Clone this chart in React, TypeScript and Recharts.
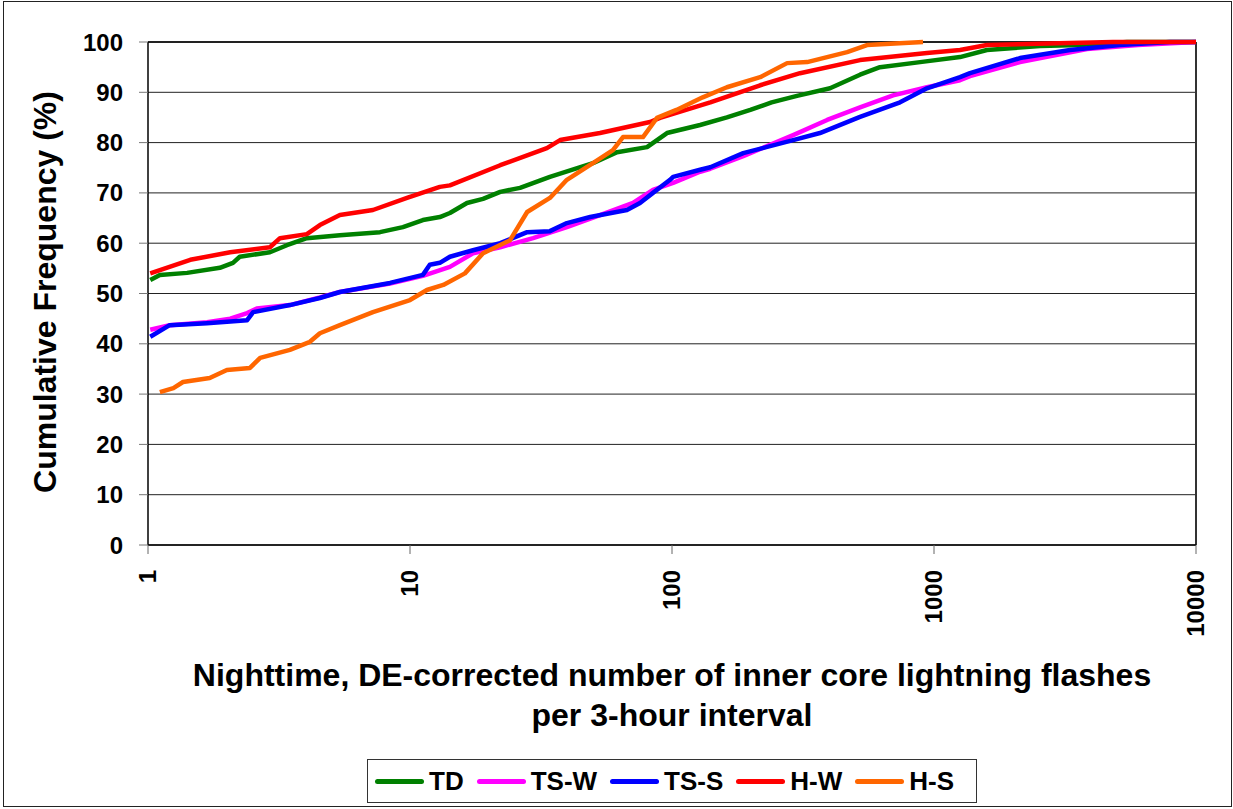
import React from 'react';
import { LineChart, Line, XAxis, YAxis, CartesianGrid, ReferenceLine } from 'recharts';

// [flashes, cumulative %]
const tdData = [
  [1.02, 52.7], [1.11, 53.7], [1.41, 54.1], [1.88, 55.1], [2.11, 56.1], [2.24, 57.3], [2.92, 58.2],
  [3.39, 59.6], [4.04, 61], [5.4, 61.6], [7.68, 62.2], [9.4, 63.2], [11.2, 64.6], [13, 65.2],
  [14.2, 66], [16.5, 68], [19, 68.8], [22.1, 70.2], [26.3, 71], [34.2, 73.2], [49.9, 75.9],
  [61.7, 78.1], [80.3, 79.1], [95.7, 81.9], [128, 83.5], [162, 85], [199, 86.5], [240, 88],
  [300, 89.3], [401, 90.8], [522, 93.5], [622, 95], [885, 96], [1257, 97], [1592, 98.4],
  [2540, 99.2], [3607, 99.4], [5456, 100], [10000, 100],
];

const tswData = [
  [1.02, 42.8], [1.21, 43.7], [1.68, 44.3], [2.06, 45], [2.39, 46.1], [2.6, 47], [3.48, 47.7],
  [4.53, 49.2], [5.4, 50.3], [8.39, 52], [11.2, 53.5], [14.2, 55.3], [17.4, 58], [22.1, 59.2],
  [29.5, 61], [39.7, 63.2], [53.1, 65.6], [71, 68], [84.6, 70.6], [101, 72], [128, 74.2],
  [140, 74.8], [187, 77.3], [290, 81.5], [391, 84.5], [522, 87], [698, 89.4], [940, 91],
  [1257, 92.4], [1372, 93.2], [2130, 96], [3838, 98.6], [6000, 99.4], [10000, 100],
];

const tssData = [
  [1.02, 41.4], [1.21, 43.7], [1.68, 44.1], [2.39, 44.7], [2.52, 46.3], [3.48, 47.7], [4.53, 49.1],
  [5.4, 50.3], [8.39, 52.1], [11.2, 53.7], [11.9, 55.7], [13, 56.1], [14.2, 57.3], [17.4, 58.6],
  [22.1, 60], [28, 62.2], [34.2, 62.4], [39.7, 64], [48.7, 65.2], [67.3, 66.6], [75.5, 68],
  [84.6, 70], [98.3, 72.6], [101, 73.2], [128, 74.6], [140, 75.1], [187, 77.9], [290, 80.5],
  [367, 81.9], [522, 85.1], [742, 88], [940, 90.8], [1257, 93], [1372, 93.8], [2130, 96.8],
  [3305, 98.4], [5128, 99.4], [7962, 100], [10000, 100],
];

const hwData = [
  [1.02, 54], [1.45, 56.7], [2.06, 58.2], [2.92, 59.2], [3.19, 61], [4.04, 61.8], [4.53, 63.6],
  [5.4, 65.6], [7.22, 66.6], [9.74, 69], [13, 71.2], [14.2, 71.5], [22.1, 75.5], [33.3, 78.9],
  [37.4, 80.5], [53.1, 81.9], [82.4, 84.1], [90, 84.9], [140, 88], [217, 91.4], [308, 93.8],
  [522, 96.4], [940, 97.8], [1257, 98.4], [1592, 99.4], [4821, 100], [10000, 100],
];

const hsData = [
  [1.11, 30.4], [1.25, 31.2], [1.36, 32.4], [1.72, 33.2], [2.0, 34.8], [2.45, 35.2], [2.68, 37.2],
  [3.48, 38.8], [4.15, 40.4], [4.53, 42.1], [5.4, 43.7], [7.22, 46.3], [10, 48.7], [11.6, 50.7],
  [13.4, 51.7], [16.2, 54], [19, 58], [24.1, 60.6], [28, 66.2], [34.2, 69], [39.7, 72.6],
  [49.9, 75.9], [59.5, 78.5], [65, 81.1], [77.5, 81.1], [87.6, 84.9], [104, 86.5], [131, 89],
  [162, 91], [217, 93], [275, 95.8], [328, 96], [466, 98], [555, 99.4], [908, 100],
];

const xTicks = [1, 10, 100, 1000, 10000];
const yTicks = [0, 10, 20, 30, 40, 50, 60, 70, 80, 90, 100];

const SERIES = [
  { name: 'TD', data: tdData, color: '#008000' },
  { name: 'TS-W', data: tswData, color: '#FF00FF' },
  { name: 'TS-S', data: tssData, color: '#0000FF' },
  { name: 'H-W', data: hwData, color: '#FF0000' },
  { name: 'H-S', data: hsData, color: '#FF6600' },
];

const FONT = '"Liberation Sans", Arial, sans-serif';

const toPoints = (rows: number[][]) => rows.map(([x, y]) => ({ x, y }));

const XTick = (props: any) => {
  const { x, y, payload } = props;
  return (
    <text
      x={x}
      y={y}
      transform={`rotate(-90 ${x} ${y})`}
      textAnchor="end"
      dy="0.35em"
      fontFamily={FONT}
      fontWeight="bold"
      fontSize={24}
      fill="#000"
    >
      {payload.value}
    </text>
  );
};

export default function App() {
  return (
    <div style={{ position: 'absolute', left: 0, top: 0, width: 1233, height: 809, background: '#fff', fontFamily: FONT }}>
      <div
        style={{
          position: 'absolute', left: 3, top: 1, width: 1229, height: 806,
          boxSizing: 'border-box', border: '1.5px solid #222',
        }}
      />
      <LineChart
        width={1233}
        height={809}
        margin={{ top: 42, right: 37, left: 88, bottom: 174 }}
        style={{ position: 'absolute', left: 0, top: 0 }}
      >
        <CartesianGrid vertical={false} stroke="#222" strokeWidth={1} />
        <XAxis
          dataKey="x"
          type="number"
          scale="log"
          domain={[1, 10000]}
          ticks={xTicks}
          allowDataOverflow
          height={90}
          tick={<XTick />}
          tickSize={9}
          tickMargin={16}
          axisLine={{ stroke: '#000', strokeWidth: 1.5 }}
          tickLine={{ stroke: '#666' }}
        />
        <YAxis
          type="number"
          domain={[0, 100]}
          ticks={yTicks}
          width={60}
          tickSize={9}
          tickMargin={16}
          interval={0}
          axisLine={{ stroke: '#000', strokeWidth: 1.5 }}
          tickLine={{ stroke: '#777' }}
          tick={{ fontFamily: FONT, fontWeight: 'bold', fontSize: 24, fill: '#000' }}
        />
        <ReferenceLine y={100} stroke="#222" strokeWidth={2} />
        <ReferenceLine x={10000} stroke="#333" strokeWidth={2} />
        {SERIES.map((s) => (
          <Line
            key={s.name}
            data={toPoints(s.data)}
            dataKey="y"
            name={s.name}
            type="linear"
            stroke={s.color}
            strokeWidth={4.5}
            strokeLinejoin="round"
            dot={false}
            activeDot={false}
            isAnimationActive={false}
          />
        ))}
      </LineChart>

      <div
        style={{
          position: 'absolute', left: 45, top: 292, transform: 'translate(-50%, -50%) rotate(-90deg)',
          whiteSpace: 'nowrap', fontSize: 32, fontWeight: 'bold', lineHeight: '36px', color: '#000',
        }}
      >
        Cumulative Frequency (%)
      </div>

      <div
        style={{
          position: 'absolute', left: 148, top: 655, width: 1048, textAlign: 'center',
          fontSize: 32, fontWeight: 'bold', lineHeight: '40px', color: '#000',
        }}
      >
        Nighttime, DE-corrected number of inner core lightning flashes
        <br />
        per 3-hour interval
      </div>

      <div
        style={{
          position: 'absolute', left: 367, top: 759, width: 610, height: 44, boxSizing: 'border-box',
          border: '1.5px solid #333', display: 'flex', alignItems: 'center', paddingLeft: 7,
        }}
      >
        {SERIES.map((s) => (
          <div key={s.name} style={{ display: 'flex', alignItems: 'center', marginRight: 13 }}>
            <div style={{ width: 49, height: 5, borderRadius: 3, background: s.color, marginRight: 5 }} />
            <span style={{ fontSize: 26, fontWeight: 'bold', color: '#000', lineHeight: '30px' }}>{s.name}</span>
          </div>
        ))}
      </div>
    </div>
  );
}
